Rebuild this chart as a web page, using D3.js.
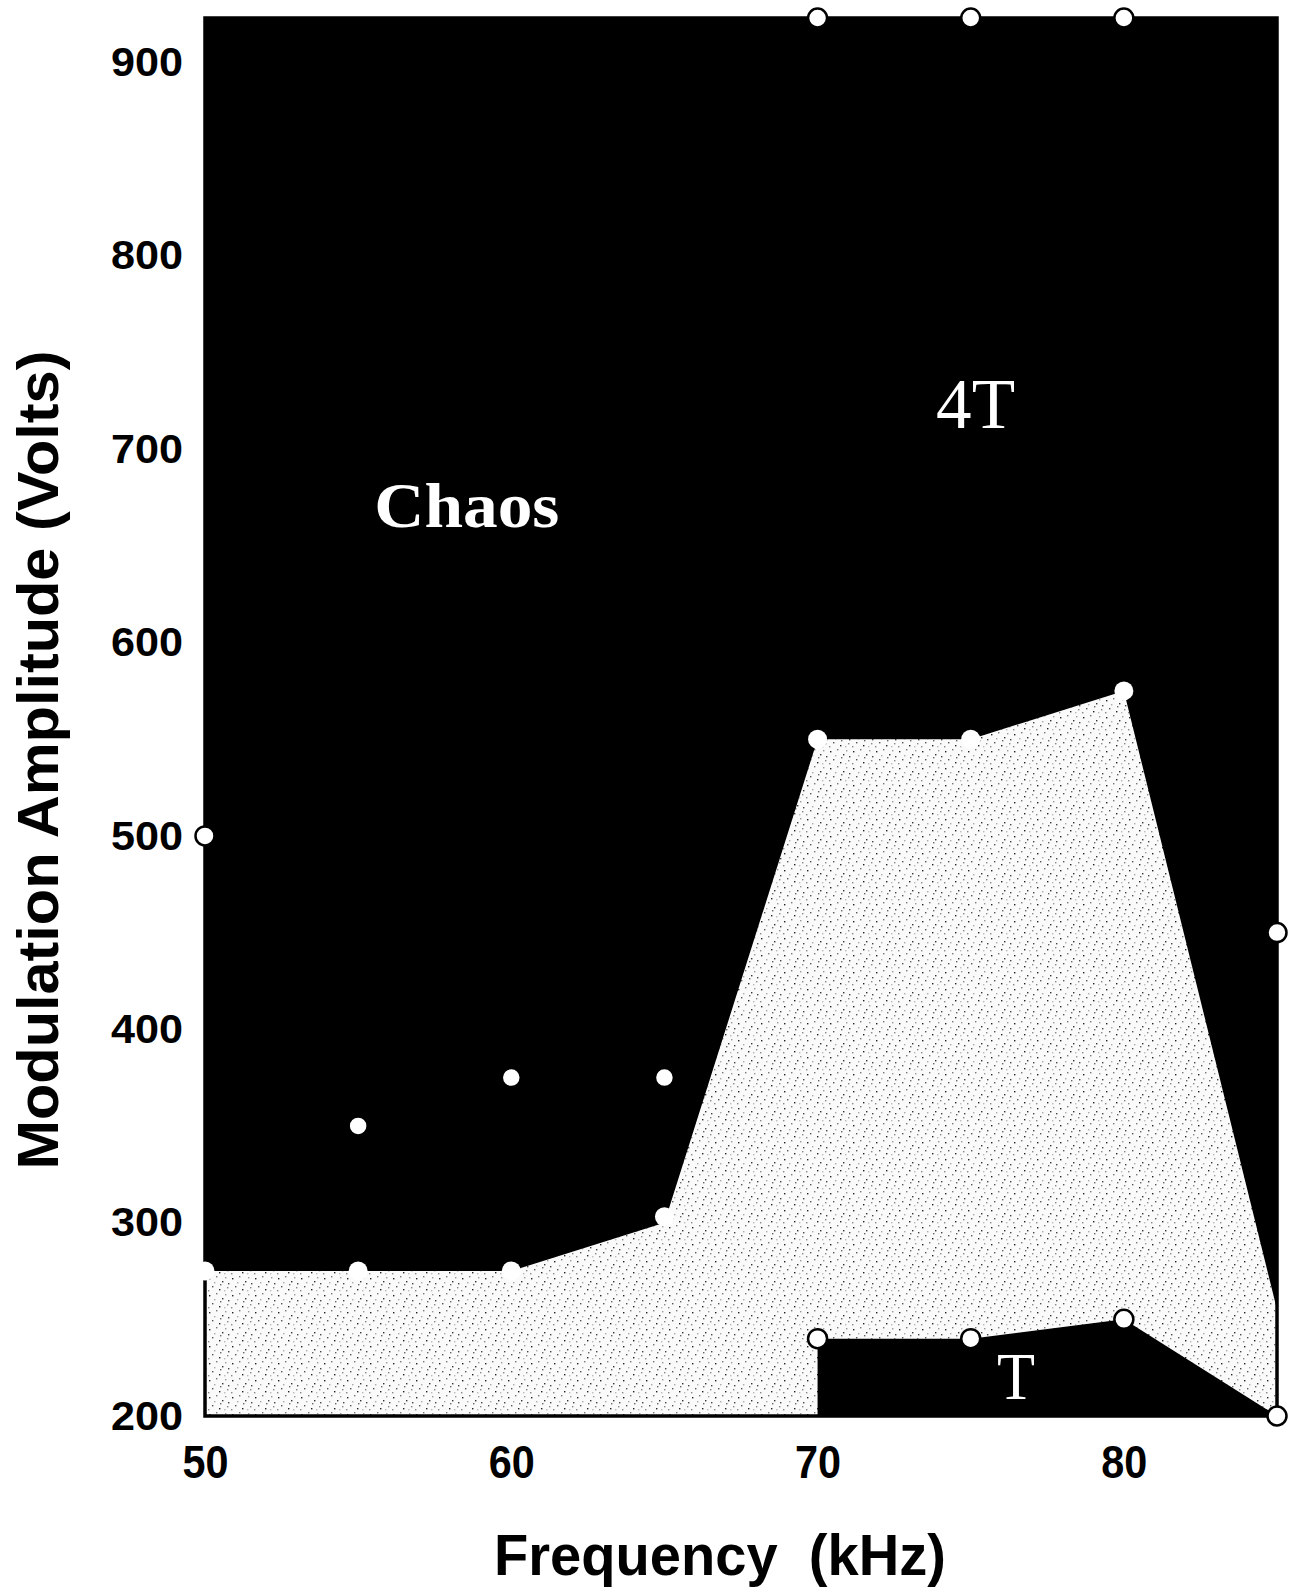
<!DOCTYPE html>
<html>
<head>
<meta charset="utf-8">
<script src="https://cdn.jsdelivr.net/npm/d3@7"></script>
<style>
  html, body { margin: 0; padding: 0; background: #fff; }
  svg { display: block; }
</style>
</head>
<body>
<div id="chart"></div>
<script>
// ---------- data ----------
const xTicks = [50, 60, 70, 80];
const yTicks = [200, 300, 400, 500, 600, 700, 800, 900];

// open markers in the chaos / 4T region
const upperFreq = [50, 55, 60, 65, 70, 75, 80, 85];
const upperAmp  = [500, 350, 375, 375, 923, 923, 923, 450];

// boundary of the light (stippled) region
const lightFreq = [50, 50, 55, 60, 65, 70, 75, 80, 85, 85];
const lightAmp  = [200, 275, 275, 275, 300, 550, 550, 575, 255, 200];

// markers along the light-region boundary
const boundaryFreq = [50, 55, 60, 65, 70, 75, 80];
const boundaryAmp  = [275, 275, 275, 303, 550, 550, 575];

// period-T region
const tRegionFreq = [70, 70, 75, 80, 85];
const tRegionAmp  = [200, 240, 240, 250, 200];
const tFreq = [70, 75, 80, 85];
const tAmp  = [240, 240, 250, 200];

const regionLabels = ["Chaos", "4T", "T"];
const labelFreq = [58.55, 75.16, 76.48];
const labelAmp  = [660, 711, 209];

const xTitle = "Frequency  (kHz)";
const yTitle = "Modulation Amplitude (Volts)";

// ---------- layout ----------
const W = 1291, H = 1590;
const svg = d3.select("#chart").append("svg").attr("width", W).attr("height", H);

const x = d3.scaleLinear().domain([50, 85]).range([205, 1277]);
const y = d3.scaleLinear().domain([200, 923]).range([1416, 18]);

// stipple pattern
const defs = svg.append("defs");
const pat = defs.append("pattern").attr("id", "stip").attr("patternUnits", "userSpaceOnUse")
  .attr("width", 23).attr("height", 17);
pat.append("rect").attr("width", 23).attr("height", 17).attr("fill", "#fafafa");
const dots = [[2,3,"#222"],[9,1,"#777"],[15,6,"#333"],[20,12,"#888"],[5,11,"#555"],[12,14,"#222"],
              [18,2,"#999"],[7,7,"#aaa"],[21,8,"#444"],[1,15,"#888"],[13,9,"#666"],[17,15,"#bbb"]];
dots.forEach(d => pat.append("rect").attr("x", d[0]).attr("y", d[1]).attr("width", 1.4).attr("height", 1.4).attr("fill", d[2]));

// black plot background
svg.append("rect")
  .attr("x", x(50)).attr("y", y(923))
  .attr("width", x(85) - x(50)).attr("height", y(200) - y(923))
  .attr("fill", "#000");

const poly = (fs, as) => fs.map((f, i) => [x(f), y(as[i])].join(",")).join(" ");

// light region
svg.append("polygon").attr("points", poly(lightFreq, lightAmp)).attr("fill", "url(#stip)");
// T region
svg.append("polygon").attr("points", poly(tRegionFreq, tRegionAmp)).attr("fill", "#000");

// frame
svg.append("rect")
  .attr("x", x(50)).attr("y", y(923))
  .attr("width", x(85) - x(50)).attr("height", y(200) - y(923))
  .attr("fill", "none").attr("stroke", "#000").attr("stroke-width", 3.5);

// axes
const yAxis = svg.append("g").attr("transform", `translate(${x(50)},0)`)
  .call(d3.axisLeft(y).tickValues(yTicks).tickSize(0).tickPadding(22).tickFormat(d3.format("d")));
yAxis.select(".domain").remove();
yAxis.selectAll("text")
  .attr("font-family", "'Liberation Sans', Arial, Helvetica, sans-serif")
  .attr("font-weight", "bold").attr("font-size", 41).attr("fill", "#000")
  .attr("textLength", 72).attr("lengthAdjust", "spacingAndGlyphs");

const xAxis = svg.append("g").attr("transform", `translate(0,${y(200)})`)
  .call(d3.axisBottom(x).tickValues(xTicks).tickSize(0).tickPadding(29).tickFormat(d3.format("d")));
xAxis.select(".domain").remove();
xAxis.selectAll("text")
  .attr("font-family", "'Liberation Sans', Arial, Helvetica, sans-serif")
  .attr("font-weight", "bold").attr("font-size", 46).attr("fill", "#000")
  .attr("textLength", 46).attr("lengthAdjust", "spacingAndGlyphs");

// markers
const marker = (fs, as, stroke) => svg.append("g").selectAll("circle").data(fs).join("circle")
  .attr("cx", (f) => x(f)).attr("cy", (f, i) => y(as[i])).attr("r", 9.5)
  .attr("fill", "#fff").attr("stroke", stroke).attr("stroke-width", 2.5);
marker(upperFreq, upperAmp, "#000");
marker(boundaryFreq, boundaryAmp, "none");
marker(tFreq, tAmp, "#000");

// region labels
const serif = "'Liberation Serif', 'Times New Roman', Times, serif";
svg.append("g").selectAll("text").data(regionLabels).join("text")
  .attr("x", (d, i) => x(labelFreq[i])).attr("y", (d, i) => y(labelAmp[i]))
  .attr("text-anchor", "middle").attr("font-family", serif).attr("fill", "#fff")
  .attr("font-weight", (d, i) => i === 0 ? "bold" : "normal")
  .attr("font-size", (d, i) => [64, 72, 68][i])
  .attr("textLength", (d, i) => [185, 79, 38][i])
  .attr("lengthAdjust", "spacingAndGlyphs")
  .text(d => d);

// axis titles
const sans = "'Liberation Sans', Arial, Helvetica, sans-serif";
svg.append("text").attr("x", 720).attr("y", 1575).attr("text-anchor", "middle")
  .attr("font-family", sans).attr("font-weight", "bold").attr("font-size", 58)
  .attr("textLength", 452).attr("lengthAdjust", "spacingAndGlyphs")
  .style("white-space", "pre").attr("xml:space", "preserve")
  .text(xTitle);
svg.append("text").attr("transform", "translate(58,760) rotate(-90)").attr("text-anchor", "middle")
  .attr("font-family", sans).attr("font-weight", "bold").attr("font-size", 58)
  .attr("textLength", 819).attr("lengthAdjust", "spacingAndGlyphs")
  .text(yTitle);
</script>
</body>
</html>
